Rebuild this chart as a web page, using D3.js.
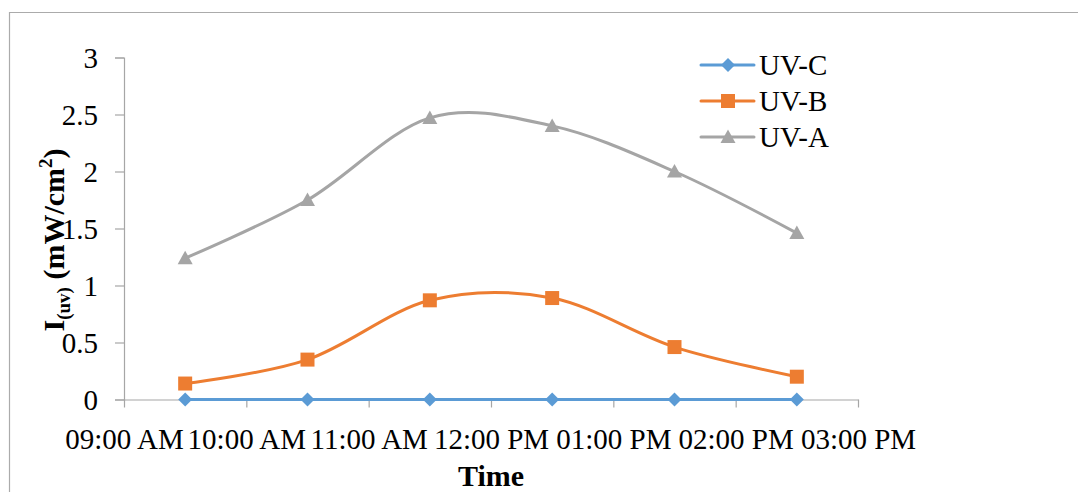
<!DOCTYPE html>
<html>
<head>
<meta charset="utf-8">
<script src="https://cdn.jsdelivr.net/npm/d3@7"></script>
<style>
  html, body { margin: 0; padding: 0; background: #fff; }
  svg { display: block; }
  text { font-family: "Liberation Serif", "Times New Roman", serif; fill: #000; }
</style>
</head>
<body>
<svg id="chart" width="1078" height="492"></svg>
<script>
// Measurement times (hours of day) and UV irradiance readings, mW/cm²
const hours = [9.5, 10.5, 11.5, 12.5, 13.5, 14.5];
const uvC = [0, 0, 0, 0, 0, 0];
const uvB = [0.14, 0.35, 0.87, 0.89, 0.46, 0.20];
const uvA = [1.24, 1.75, 2.47, 2.40, 2.00, 1.46];

// Axis ticks
const tickHours = [9, 10, 11, 12, 13, 14, 15];
const tickLabels = ["09:00 AM", "10:00 AM", "11:00 AM", "12:00 PM", "01:00 PM", "02:00 PM", "03:00 PM"];
const yTicks = [0, 0.5, 1, 1.5, 2, 2.5, 3];
const yTickLabels = ["0", "0.5", "1", "1.5", "2", "2.5", "3"];

const seriesNames = ["UV-C", "UV-B", "UV-A"];
const seriesValues = [uvC, uvB, uvA];
const seriesColors = ["#5B9BD5", "#ED7D31", "#A5A5A5"];
const seriesMarkers = ["diamond", "square", "triangle"];

const svg = d3.select("#chart");

// Outer frame (top and left edges)
svg.append("path")
  .attr("d", "M9.5,492 V12.5 H1078")
  .attr("fill", "none")
  .attr("stroke", "#ababab")
  .attr("stroke-width", 1.2);

const x = d3.scaleLinear().domain([9, 15]).range([124, 858]);
const y = d3.scaleLinear().domain([0, 3]).range([399.5, 57.5]);

const axisColor = "#a6a6a6";

// Y axis
const yAxis = svg.append("g")
  .attr("transform", `translate(${x(9)},0)`)
  .call(d3.axisLeft(y).tickValues(yTicks).tickFormat((d, i) => yTickLabels[i]).tickSize(9).tickPadding(17));
yAxis.select(".domain").attr("stroke", axisColor).attr("stroke-width", 1.2);
yAxis.selectAll(".tick line").attr("stroke", axisColor).attr("stroke-width", 1.2);
yAxis.selectAll(".tick text")
  .attr("font-size", 29)
  .attr("font-family", "Liberation Serif, serif")
  .attr("fill", "#000")
  .attr("dy", "0.33em");

// X axis
const xAxis = svg.append("g")
  .attr("transform", `translate(0,${y(0)})`)
  .call(d3.axisBottom(x).tickValues(tickHours).tickFormat((d, i) => tickLabels[i]).tickSize(8).tickSizeOuter(0).tickPadding(21));
xAxis.select(".domain").attr("stroke", axisColor).attr("stroke-width", 1.2);
xAxis.selectAll(".tick line").attr("stroke", axisColor).attr("stroke-width", 1.2);
xAxis.selectAll(".tick text")
  .attr("font-size", 29)
  .attr("font-family", "Liberation Serif, serif")
  .attr("fill", "#000")
  .attr("dy", "0.71em");

// Axis titles
svg.append("text")
  .attr("x", (x(9) + x(15)) / 2)
  .attr("y", 486)
  .attr("text-anchor", "middle")
  .attr("font-size", 30)
  .attr("font-weight", "bold")
  .text("Time");

const yTitle = svg.append("text")
  .attr("transform", "translate(64,240) rotate(-90)")
  .attr("text-anchor", "middle")
  .attr("font-size", 30)
  .attr("font-weight", "bold");
yTitle.append("tspan").text("I");
yTitle.append("tspan").attr("font-size", 19).attr("dy", 6).text("(uv)");
yTitle.append("tspan").attr("dy", -6).text(" (mW/cm");
yTitle.append("tspan").attr("font-size", 19).attr("dy", -12).text("2");
yTitle.append("tspan").attr("dy", 12).text(")");

// Marker shapes
function markerPath(kind) {
  if (kind === "diamond") return "M0,-7 L7,0 L0,7 L-7,0 Z";
  if (kind === "square") return "M-7,-7 H7 V7 H-7 Z";
  return "M0,-7.5 L7.5,6 L-7.5,6 Z";
}

const line = d3.line()
  .x(d => x(d[0]))
  .y(d => y(d[1]))
  .curve(d3.curveCardinal.tension(0));

seriesValues.forEach((vals, s) => {
  const pts = hours.map((h, i) => [h, vals[i]]);
  const g = svg.append("g");
  g.append("path")
    .datum(pts)
    .attr("d", line)
    .attr("fill", "none")
    .attr("stroke", seriesColors[s])
    .attr("stroke-width", 3)
    .attr("stroke-linecap", "round");
  g.selectAll("path.mk")
    .data(pts)
    .join("path")
    .attr("class", "mk")
    .attr("transform", d => `translate(${x(d[0])},${y(d[1])})`)
    .attr("d", markerPath(seriesMarkers[s]))
    .attr("fill", seriesColors[s]);
});

// Legend
const legendY = [65, 101, 137];
seriesNames.forEach((name, s) => {
  const g = svg.append("g").attr("transform", `translate(0,${legendY[s]})`);
  g.append("line")
    .attr("x1", 701).attr("x2", 754)
    .attr("stroke", seriesColors[s])
    .attr("stroke-width", 3)
    .attr("stroke-linecap", "round");
  g.append("path")
    .attr("transform", "translate(728,0)")
    .attr("d", markerPath(seriesMarkers[s]))
    .attr("fill", seriesColors[s]);
  g.append("text")
    .attr("x", 759)
    .attr("y", 10)
    .attr("font-size", 29)
    .text(name);
});
</script>
</body>
</html>
